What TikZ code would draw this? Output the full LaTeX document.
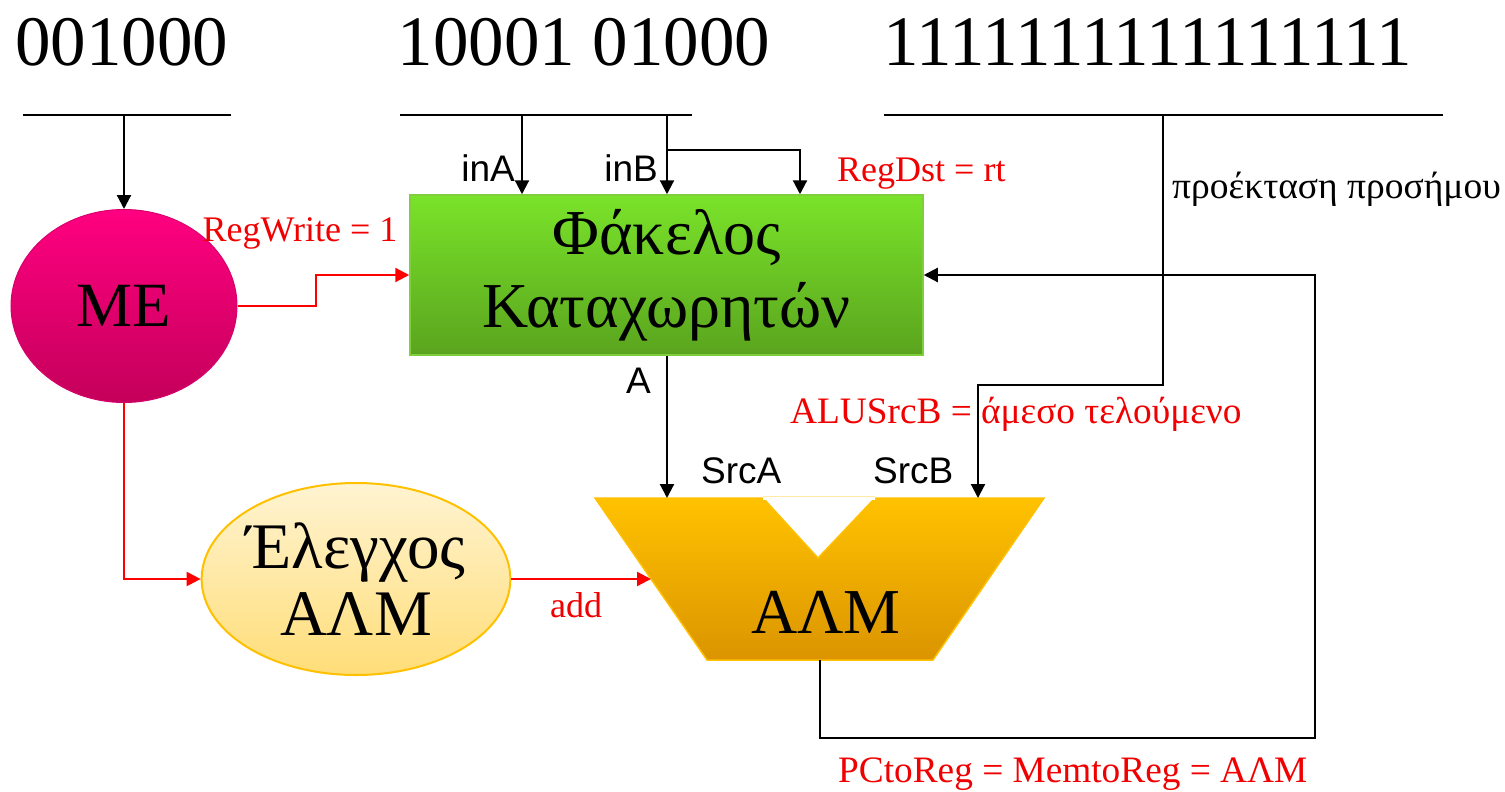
\documentclass[tikz,border=0pt]{standalone}
\usepackage{fontspec}
\setmainfont{Liberation Serif}
\setsansfont{Liberation Sans}
\usetikzlibrary{arrows.meta,shapes.geometric,calc}
\definecolor{rfTop}{HTML}{7AE32A}
\definecolor{rfBot}{HTML}{5AA41E}
\definecolor{rfLine}{HTML}{7FCF3C}
\definecolor{meTop}{HTML}{FF0080}
\definecolor{meBot}{HTML}{C4005A}
\definecolor{meLine}{HTML}{D8006C}
\definecolor{ctTop}{HTML}{FFF4D2}
\definecolor{ctBot}{HTML}{FFDD78}
\definecolor{orLine}{HTML}{FFC000}
\definecolor{aluTop}{HTML}{FFC200}
\definecolor{aluBot}{HTML}{DB9400}
\definecolor{sigRed}{HTML}{FF0000}
\definecolor{txtRed}{HTML}{F00000}
\tikzset{
  tip/.style={-{Triangle[length=14pt,width=14pt]}},
  wire/.style={line width=2.2pt,black},
  ctlwire/.style={line width=2.2pt,sigRed},
  bigtxt/.style={font=\fontsize{71}{80}\selectfont,inner sep=0pt},
  redlbl/.style={font=\fontsize{36}{40}\selectfont,text=txtRed,inner sep=0pt},
  redgr/.style={font=\fontsize{37.3}{40}\selectfont,text=txtRed,inner sep=0pt},
  blklbl/.style={font=\fontsize{37.5}{40}\selectfont,inner sep=0pt},
  portlbl/.style={font=\sffamily\fontsize{37}{40}\selectfont,inner sep=0pt},
}
\begin{document}
\begin{tikzpicture}[x=1pt,y=-1pt]
\useasboundingbox (0,0) rectangle (1505,792);

% instruction fields
\node[bigtxt,anchor=base] (f1) at (122,66) {001000};
\node[bigtxt,anchor=base] (f2) at (584,66) {10001 01000};
\node[bigtxt,anchor=base] (f3) at (1148,66) {1111111111111111};
\coordinate (b1l) at (23,115); \coordinate (b1r) at (231,115);
\coordinate (b2l) at (400,115); \coordinate (b2r) at (692,115);
\coordinate (b3l) at (884,115); \coordinate (b3r) at (1443,115);
\draw[wire] (b1l) -- (b1r);
\draw[wire] (b2l) -- (b2r);
\draw[wire] (b3l) -- (b3r);

% main control
\node[ellipse,minimum width=226pt,minimum height=193pt,inner sep=0pt,
      top color=meTop,bottom color=meBot,draw=meLine,line width=1pt,
      font=\fontsize{63}{70}\selectfont] (me) at (124,306) {ME};

% register file
\node[rectangle,minimum width=513pt,minimum height=160pt,inner sep=0pt,
      top color=rfTop,bottom color=rfBot,draw=rfLine,line width=1.5pt,
      align=center,font=\fontsize{64}{77}\selectfont] (rf) at (666.5,275)
      {Φάκελος\\[-4pt]Καταχωρητών};

% ALU control
\node[ellipse,minimum width=304pt,minimum height=192pt,inner sep=0pt,
      top color=ctTop,bottom color=ctBot,draw=orLine,line width=2pt,
      align=center,font=\fontsize{65}{67}\selectfont] (ctl) at (356,579)
      {Έλεγχος\\ΑΛΜ};

% ALU
\coordinate (aTL) at (595,498);
\coordinate (nL) at (763,498);
\coordinate (nB) at (818,558);
\coordinate (nR) at (875,498);
\coordinate (aTR) at (1044,498);
\coordinate (aBR) at (933,660);
\coordinate (aBL) at (707,660);
\path[top color=aluTop,bottom color=aluBot,draw=orLine,line width=1.5pt,line join=miter]
  (aTL) -- (nL) -- (nB) -- (nR) -- (aTR) -- (aBR) -- (aBL) -- cycle;
\draw[line width=3pt,color=white] (nL) -- (nR);
\draw[line width=0.8pt,color=orLine!35] ($(nL)+(0,-2)$) -- ($(nR)+(0,-2)$);
\node[font=\fontsize{64}{70}\selectfont,inner sep=0pt,anchor=base] (alu) at (826,633) {ΑΛΜ};
\coordinate (aluA) at (667,498);
\coordinate (aluB) at (978,498);
\coordinate (aluIn) at (651,579);
\coordinate (aluOut) at (820,660);

% opcode -> main control
\coordinate (opTap) at (124,115);
\draw[wire,tip] (opTap) -- (me.north);

% rs, rt -> register file
\coordinate (rsTap) at (522,115);
\coordinate (rtTap) at (667,115);
\coordinate (rtBr) at (667,150);
\coordinate (rdIn) at (800,150);
\draw[wire,tip] (rsTap) -- (rsTap |- rf.north);
\draw[wire,tip] (rtTap) -- (rtTap |- rf.north);
\draw[wire,tip] (rtBr) -- (rdIn) -- (rdIn |- rf.north);
\node[portlbl,anchor=base east] (inA) at (515,181) {inA};
\node[portlbl,anchor=base east] (inB) at (658,181) {inB};
\node[redlbl,anchor=base west] (regdst) at (837,181) {RegDst = rt};

% control to register file
\coordinate (rwJog) at (316,306);
\draw[ctlwire,tip] (me.east) -- (rwJog) |- (rf.west);
\node[redlbl,anchor=base] (regwrite) at (300,241) {RegWrite = 1};

% A -> ALU
\draw[wire,tip] (rf.south -| aluA) -- (aluA);
\node[portlbl,anchor=base east] (lblA) at (651,393) {A};
\node[portlbl,anchor=base west] (srcA) at (701,483) {SrcA};
\node[portlbl,anchor=base west] (srcB) at (873,483) {SrcB};

% sign extension -> ALU SrcB
\coordinate (imTap) at (1163,115);
\coordinate (imTurn) at (1163,385);
\draw[wire,tip] (imTap) -- (imTurn) -| (aluB);
\node[blklbl,anchor=base west] (sext) at (1172,198) {προέκταση προσήμου};
\node[redgr,anchor=base west] (alusrcb) at (790,423) {ALUSrcB = άμεσο τελούμενο};

% main control -> ALU control -> ALU
\draw[ctlwire,tip] (me.south) |- (ctl.west);
\draw[ctlwire,tip] (ctl.east) -- (aluIn);
\node[redlbl,anchor=base] (add) at (576,617) {add};

% write back
\coordinate (wbDown) at (820,738);
\coordinate (wbUp) at (1315,275);
\draw[wire,tip] (aluOut) -- (wbDown) -| (wbUp) -- (rf.east);
\node[redgr,anchor=base west] (pctoreg) at (838,782) {PCtoReg = MemtoReg = ΑΛΜ};
\end{tikzpicture}
\end{document}
